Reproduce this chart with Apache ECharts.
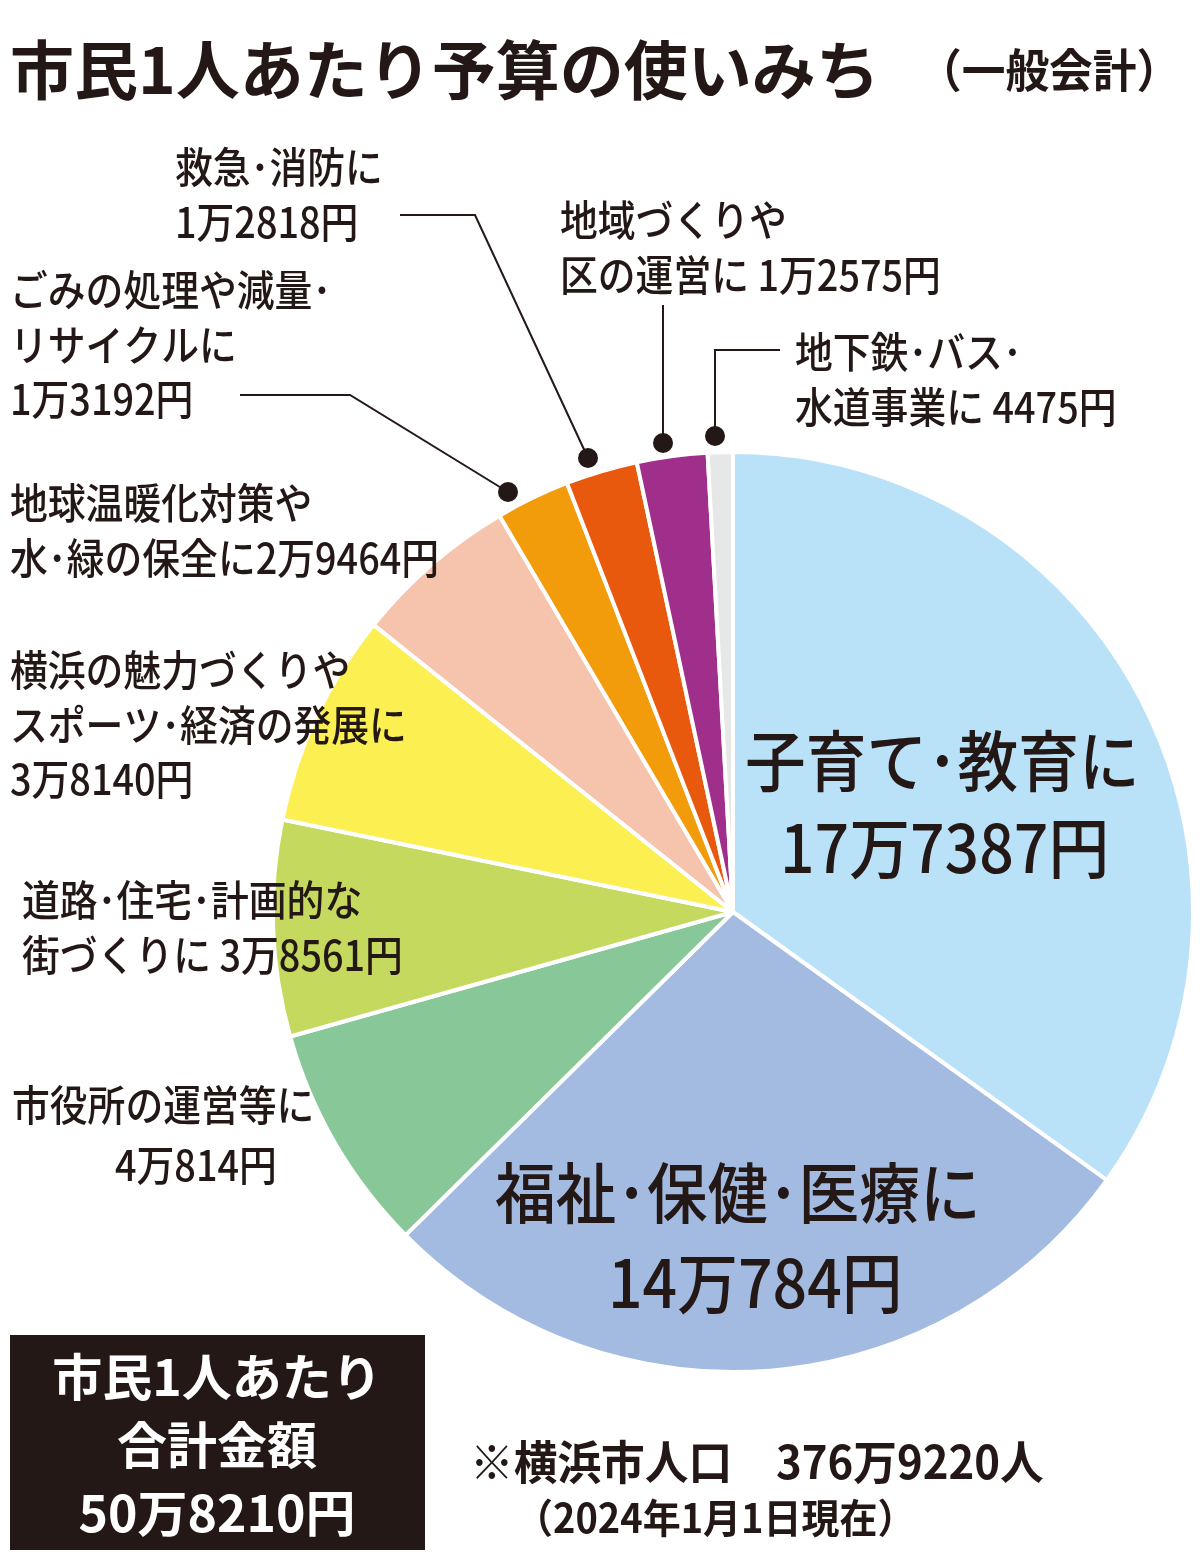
<!DOCTYPE html>
<html><head><meta charset="utf-8">
<script src="https://cdn.jsdelivr.net/npm/echarts@6/dist/echarts.min.js"></script>
<style>body{margin:0;background:#fff}#c{width:1200px;height:1559px}</style>
</head><body><div id="c"></div>
<script>
// 市民1人あたり予算の使いみち
const names = ['子育て・教育', '福祉・保健・医療', '市役所の運営等', '道路・住宅・計画的な街づくり', '横浜の魅力づくり', '地球温暖化対策', 'ごみ処理', '救急・消防', '地域づくり', '地下鉄・バス・水道'];
const values = [177387, 140784, 40814, 38561, 38140, 29464, 13192, 12818, 12575, 4475];
const colors = ['#b9e1f8', '#a3bbe0', '#88c798', '#c5d95f', '#fcef52', '#f6c4ad', '#f29b0b', '#e8590d', '#a02f8c', '#e6e7e7'];

const chart = echarts.init(document.getElementById('c'));
const F = '"Noto Sans CJK JP"';
const ink = '#231815';
const txt = (x, y, s, size, weight, sx) => ({
    type: 'text', x: x, y: y, z: 100, scaleX: sx || 0.9,
    style: { text: s, font: `${weight || 500} ${size}px ${F}`, fill: ink, lineHeight: size * 1.3 }
});
const line = pts => ({ type: 'polyline', z: 100, shape: { points: pts }, style: { stroke: ink, lineWidth: 2, fill: null } });
const dot = (x, y) => ({ type: 'circle', z: 100, shape: { cx: x, cy: y, r: 10 }, style: { fill: ink } });

chart.setOption({
    animation: false,
    series: [{
        type: 'pie',
        center: [733, 912],
        radius: [0, 460],
        startAngle: 90,
        clockwise: true,
        label: { show: false },
        itemStyle: { borderColor: '#fff', borderWidth: 4 },
        data: names.map((n, i) => ({ name: n, value: values[i], itemStyle: { color: colors[i] } }))
    }],
    graphic: [
        txt(10, 28, '市民1人あたり予算の使いみち', 64, 'bold', 1),
        txt(918, 40, '（一般会計）', 46, 'bold', 0.95),
        txt(175, 140, '救急･消防に\n1万2818円', 42),
        txt(560, 193, '地域づくりや\n区の運営に 1万2575円', 42),
        txt(10, 263, 'ごみの処理や減量･\nリサイクルに\n1万3192円', 42),
        txt(795, 325, '地下鉄･バス･\n水道事業に 4475円', 42),
        txt(10, 476, '地球温暖化対策や\n水･緑の保全に2万9464円', 42),
        txt(10, 643, '横浜の魅力づくりや\nスポーツ･経済の発展に\n3万8140円', 42),
        txt(22, 873, '道路･住宅･計画的な\n街づくりに 3万8561円', 42),
        txt(12, 1078, '市役所の運営等に', 42),
        txt(115, 1138, '4万814円', 42),
        txt(745, 718, '子育て･教育に', 66, 500, 0.92),
        txt(780, 805, '17万7387円', 66, 500, 0.92),
        txt(495, 1150, '福祉･保健･医療に', 66, 500, 0.92),
        txt(608, 1240, '14万784円', 66, 500, 0.92),
        line([[400, 215], [475, 215], [588, 458]]), dot(588, 458),
        line([[240, 395], [350, 395], [508, 492]]), dot(508, 492),
        line([[663, 305], [663, 443]]), dot(663, 443),
        line([[780, 350], [715, 350], [715, 436]]), dot(715, 436),
        { type: 'rect', z: 90, shape: { x: 10, y: 1335, width: 415, height: 215 }, style: { fill: ink } },
        { type: 'text', z: 100, x: 217, y: 1343, style: { text: '市民1人あたり\n合計金額\n50万8210円', font: `bold 50px ${F}`, fill: '#fff', align: 'center', lineHeight: 68 } },
        txt(470, 1432, '※横浜市人口　376万9220人', 46, 'bold', 0.95),
        txt(515, 1492, '（2024年1月1日現在）', 40, 'bold', 0.95)
    ]
});
</script></body></html>
